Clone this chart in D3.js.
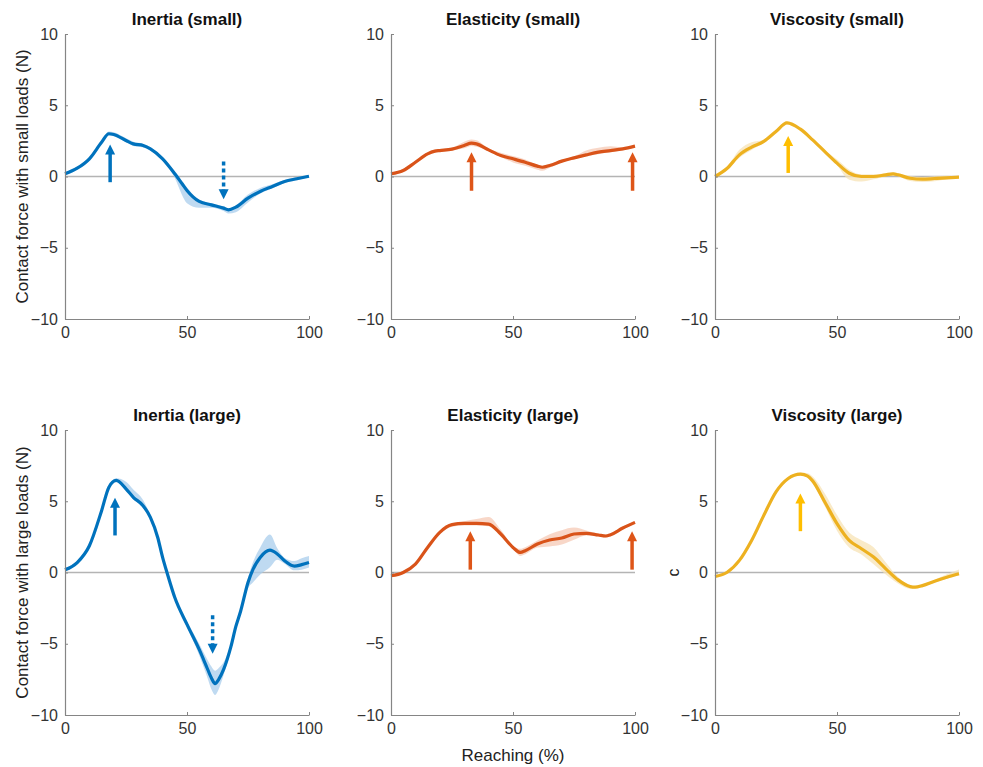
<!DOCTYPE html>
<html>
<head>
<meta charset="utf-8">
<script src="https://cdn.jsdelivr.net/npm/d3@7"></script>
<style>
  body { margin: 0; background: #fff; }
  text { font-family: "Liberation Sans", Arial, sans-serif; }
</style>
</head>
<body>
<div id="chart"></div>
<script>
// ---- data (x = reaching %, y = force N) ----
var inertiaSmallX = [0,5,10,15,18,20,25,28,32,35,40,45,48,50,55,60,65,67,70,75,80,85,90,95,100];
var inertiaSmallY = [0.19,0.58,1.24,2.4,3.0,2.95,2.53,2.29,2.18,1.94,1.24,0.19,-0.51,-0.98,-1.75,-1.99,-2.22,-2.34,-2.15,-1.52,-1.05,-0.70,-0.35,-0.16,0.02];
var inertiaSmallLo = [0.1,0.1,0.1,0.1,0.12,0.12,0.12,0.15,0.15,0.12,0.12,0.3,0.8,0.9,0.45,0.2,0.2,0.25,0.35,0.3,0.15,0.12,0.1,0.1,0.05];
var inertiaSmallHi = [0.1,0.1,0.1,0.1,0.15,0.15,0.15,0.15,0.12,0.12,0.12,0.15,0.2,0.2,0.12,0.12,0.12,0.12,0.12,0.25,0.25,0.15,0.1,0.1,0.05];

var elastSmallX = [0,5,10,15,18,20,25,30,33,35,40,45,50,55,60,62,65,70,75,80,85,90,95,100];
var elastSmallY = [0.19,0.42,1.0,1.59,1.78,1.82,1.92,2.18,2.34,2.29,1.87,1.47,1.24,1.0,0.73,0.65,0.77,1.08,1.31,1.52,1.71,1.82,1.94,2.13];
var elastSmallLo = [0.08,0.1,0.1,0.1,0.1,0.1,0.1,0.2,0.2,0.2,0.1,0.1,0.25,0.25,0.25,0.25,0.15,0.1,0.1,0.1,0.15,0.1,0.1,0.08];
var elastSmallHi = [0.08,0.1,0.1,0.1,0.1,0.1,0.1,0.25,0.25,0.25,0.1,0.2,0.2,0.2,0.1,0.1,0.1,0.1,0.1,0.3,0.3,0.3,0.1,0.08];

var viscSmallX = [0,5,10,15,20,25,29.5,35,40,45,50,55,60,65,70,73,75,80,85,90,95,100];
var viscSmallY = [0,0.58,1.52,2.06,2.46,3.16,3.76,3.32,2.57,1.75,0.94,0.23,0,0,0.12,0.19,0.12,-0.12,-0.19,-0.14,-0.09,-0.05];
var viscSmallLo = [0.05,0.1,0.2,0.2,0.1,0.1,0.1,0.1,0.1,0.1,0.15,0.45,0.35,0.2,0.1,0.1,0.1,0.2,0.2,0.2,0.1,0.08];
var viscSmallHi = [0.05,0.1,0.35,0.35,0.1,0.1,0.12,0.1,0.1,0.1,0.25,0.25,0.15,0.15,0.1,0.1,0.1,0.15,0.15,0.15,0.15,0.08];

var inertiaLargeX = [0,5,10,15,18,21,25,28,32,35,38,40,42,45,50,55,58,60,61.5,63,65,68,70,72,75,77,80,84,87,90,94,97,100];
var inertiaLargeY = [0.19,0.7,1.88,4.34,5.99,6.46,5.87,5.28,4.69,3.87,2.46,1.06,-0.12,-1.76,-3.64,-5.4,-6.6,-7.4,-7.8,-7.5,-6.8,-5.2,-3.8,-2.7,-0.7,0.2,1.06,1.57,1.3,0.82,0.45,0.55,0.7];
var inertiaLargeLo = [0.12,0.12,0.12,0.12,0.12,0.12,0.12,0.12,0.12,0.12,0.12,0.12,0.12,0.15,0.2,0.4,0.6,0.8,0.8,0.7,0.4,0.2,0.15,0.2,0.4,0.9,1.2,1.2,0.4,0.2,0.3,0.35,0.35];
var inertiaLargeHi = [0.12,0.12,0.12,0.12,0.12,0.15,0.5,0.55,0.4,0.15,0.12,0.12,0.12,0.15,0.2,0.4,0.6,0.8,0.9,0.8,0.5,0.2,0.15,0.2,0.3,0.5,0.7,1.1,0.4,0.2,0.35,0.45,0.45];

var elastLargeX = [0,5,10,15,20,25,30,35,40,45,50,53,55,60,65,70,75,80,85,88,90,95,100];
var elastLargeY = [-0.23,0.0,0.59,1.76,2.82,3.36,3.45,3.45,3.4,2.7,1.76,1.41,1.53,2.0,2.28,2.42,2.7,2.75,2.63,2.56,2.65,3.12,3.52];
var elastLargeLo = [0.08,0.1,0.1,0.1,0.1,0.15,0.15,0.15,0.15,0.1,0.1,0.25,0.25,0.25,0.45,0.45,0.4,0.15,0.1,0.1,0.1,0.1,0.08];
var elastLargeHi = [0.08,0.1,0.1,0.1,0.1,0.1,0.15,0.3,0.5,0.3,0.1,0.25,0.25,0.25,0.4,0.55,0.45,0.2,0.1,0.1,0.1,0.1,0.08];

var viscLargeX = [0,5,10,15,20,25,30,35,38,40,45,50,55,60,65,70,75,80,82,85,90,95,100];
var viscLargeY = [-0.28,0.02,0.85,2.25,4.01,5.66,6.6,6.9,6.76,6.43,4.95,3.43,2.25,1.67,1.08,0.26,-0.52,-0.99,-1.03,-0.92,-0.61,-0.33,-0.09];
var viscLargeLo = [0.08,0.1,0.1,0.1,0.1,0.1,0.1,0.1,0.1,0.15,0.3,0.5,0.5,0.4,0.5,0.4,0.25,0.15,0.1,0.1,0.1,0.1,0.1];
var viscLargeHi = [0.08,0.1,0.1,0.1,0.1,0.1,0.1,0.12,0.2,0.3,0.6,0.6,0.55,0.6,0.7,0.45,0.2,0.1,0.1,0.1,0.1,0.2,0.3];

// arrows: x position, start value, tip value
var inertiaSmallArrows = [{x: 18.5, from: -0.4, to: 2.25, dash: false}, {x: 65, from: 1.05, to: -1.6, dash: true}];
var elastSmallArrows = [{x: 33, from: -1.0, to: 1.7, dash: false}, {x: 99, from: -1.0, to: 1.7, dash: false}];
var viscSmallArrows = [{x: 30, from: 0.25, to: 2.85, dash: false}];
var inertiaLargeArrows = [{x: 20.5, from: 2.6, to: 5.25, dash: false}, {x: 60.5, from: -3.0, to: -5.7, dash: true}];
var elastLargeArrows = [{x: 32.5, from: 0.2, to: 2.9, dash: false}, {x: 98.8, from: 0.2, to: 2.9, dash: false}];
var viscLargeArrows = [{x: 35, from: 2.9, to: 5.55, dash: false}];

var titles = ['Inertia (small)', 'Elasticity (small)', 'Viscosity (small)',
              'Inertia (large)', 'Elasticity (large)', 'Viscosity (large)'];
var xTicks = [0, 50, 100];
var yTicks = [-10, -5, 0, 5, 10];

var blue = '#0072BD', orange = '#D95319', yellow = '#EDB120';

var panels = [
  { x: inertiaSmallX, y: inertiaSmallY, lo: inertiaSmallLo, hi: inertiaSmallHi, arrows: inertiaSmallArrows, color: blue, arrowColor: blue, band: '#a9cdec' },
  { x: elastSmallX, y: elastSmallY, lo: elastSmallLo, hi: elastSmallHi, arrows: elastSmallArrows, color: orange, arrowColor: '#DE5518', band: '#f5c9b6' },
  { x: viscSmallX, y: viscSmallY, lo: viscSmallLo, hi: viscSmallHi, arrows: viscSmallArrows, color: yellow, arrowColor: '#FFBE00', band: '#f7e3b5' },
  { x: inertiaLargeX, y: inertiaLargeY, lo: inertiaLargeLo, hi: inertiaLargeHi, arrows: inertiaLargeArrows, color: blue, arrowColor: blue, band: '#a9cdec' },
  { x: elastLargeX, y: elastLargeY, lo: elastLargeLo, hi: elastLargeHi, arrows: elastLargeArrows, color: orange, arrowColor: '#DE5518', band: '#f5c9b6' },
  { x: viscLargeX, y: viscLargeY, lo: viscLargeLo, hi: viscLargeHi, arrows: viscLargeArrows, color: yellow, arrowColor: '#FFBE00', band: '#f7e3b5' }
];

var width = 983, height = 767
  , colLeft = [65, 391, 715]
  , rowTop = [34, 430]
  , pw = 244
  , ph = 285
  ;

var svg = d3.select('#chart').append('svg')
    .attr('width', width)
    .attr('height', height);

var xs = d3.scaleLinear().domain([0, 100]).range([0, pw]);
var ys = d3.scaleLinear().domain([-10, 10]).range([ph, 0]);

panels.forEach(function(p, i) {
  var col = i % 3, row = Math.floor(i / 3);
  var g = svg.append('g')
      .attr('transform', 'translate(' + colLeft[col] + ',' + rowTop[row] + ')');

  var pts = p.x.map(function(v, k) {
    return { x: v, y: p.y[k], lo: p.y[k] - p.lo[k], hi: p.y[k] + p.hi[k] };
  });

  // zero line
  g.append('line')
      .attr('x1', xs(0)).attr('x2', xs(100))
      .attr('y1', ys(0)).attr('y2', ys(0))
      .attr('stroke', '#b4b4b4')
      .attr('stroke-width', 1.5);

  // shaded band
  var area = d3.area()
      .x(d => xs(d.x))
      .y0(d => ys(d.lo))
      .y1(d => ys(d.hi))
      .curve(d3.curveMonotoneX);

  g.append('path')
      .datum(pts)
      .attr('d', area)
      .attr('fill', p.band)
      .attr('fill-opacity', 0.75);

  // mean curve
  var line = d3.line()
      .x(d => xs(d.x))
      .y(d => ys(d.y))
      .curve(d3.curveMonotoneX);

  g.append('path')
      .datum(pts)
      .attr('d', line)
      .attr('fill', 'none')
      .attr('stroke', p.color)
      .attr('stroke-width', 3.2)
      .attr('stroke-linejoin', 'round');

  // arrows
  p.arrows.forEach(function(a) {
    var ax = xs(a.x), y0 = ys(a.from), y1 = ys(a.to)
      , dir = y1 < y0 ? 1 : -1   // 1 = pointing up
      , headH = 10, headW = 5
      ;
    g.append('line')
        .attr('x1', ax).attr('x2', ax)
        .attr('y1', y0).attr('y2', y1 + dir * (headH - 1))
        .attr('stroke', p.arrowColor)
        .attr('stroke-width', 3.5)
        .attr('stroke-dasharray', a.dash ? '4,3' : null);
    g.append('path')
        .attr('d', 'M' + ax + ',' + y1 +
                   'L' + (ax - headW) + ',' + (y1 + dir * headH) +
                   'L' + (ax + headW) + ',' + (y1 + dir * headH) + 'Z')
        .attr('fill', p.arrowColor);
  });

  // axes (MATLAB style: inward ticks, no box)
  var axL = g.append('g')
      .call(d3.axisLeft(ys).tickValues(yTicks).tickSizeInner(-3).tickSizeOuter(0).tickPadding(7));
  var axB = g.append('g')
      .attr('transform', 'translate(0,' + ph + ')')
      .call(d3.axisBottom(xs).tickValues(xTicks).tickSizeInner(-3).tickSizeOuter(0).tickPadding(8));

  [axL, axB].forEach(function(ax) {
    ax.select('.domain').attr('stroke', '#858585').attr('stroke-width', 1.2);
    ax.selectAll('.tick line').attr('stroke', '#858585');
    ax.selectAll('.tick text')
        .attr('fill', '#333')
        .style('font-size', '16px')
        .style('font-family', '"Liberation Sans", Arial, sans-serif');
  });

  // title
  g.append('text')
      .attr('x', pw / 2)
      .attr('y', -9)
      .attr('text-anchor', 'middle')
      .style('font-size', '17px')
      .style('font-weight', 'bold')
      .attr('fill', '#111')
      .text(titles[i]);
});

// y labels
svg.append('text')
    .attr('transform', 'translate(28,' + (rowTop[0] + ph / 2) + ') rotate(-90)')
    .attr('text-anchor', 'middle')
    .style('font-size', '17px')
    .attr('fill', '#222')
    .text('Contact force with small loads (N)');

svg.append('text')
    .attr('transform', 'translate(28,' + (rowTop[1] + ph / 2) + ') rotate(-90)')
    .attr('text-anchor', 'middle')
    .style('font-size', '17px')
    .attr('fill', '#222')
    .text('Contact force with large loads (N)');

svg.append('text')
    .attr('transform', 'translate(679,' + (rowTop[1] + ph / 2) + ') rotate(-90)')
    .attr('text-anchor', 'middle')
    .style('font-size', '16px')
    .attr('fill', '#222')
    .text('c');

// x label
svg.append('text')
    .attr('x', colLeft[1] + pw / 2)
    .attr('y', 761)
    .attr('text-anchor', 'middle')
    .style('font-size', '17px')
    .attr('fill', '#222')
    .text('Reaching (%)');
</script>
</body>
</html>
